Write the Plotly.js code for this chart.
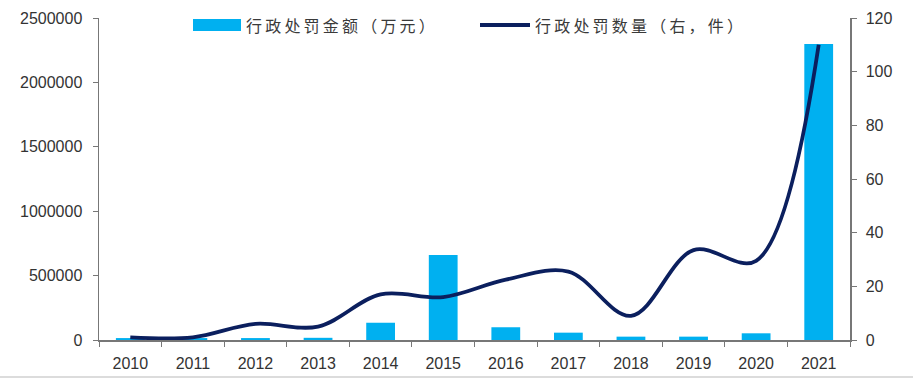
<!DOCTYPE html>
<html>
<head>
<meta charset="utf-8">
<script src="https://cdn.plot.ly/plotly-3.0.1.min.js"></script>
<style>html,body{margin:0;padding:0;background:#fff;}#chart{width:923px;height:382px;}</style>
</head>
<body>
<div id="chart"></div>
<script>
const years = ['2010','2011','2012','2013','2014','2015','2016','2017','2018','2019','2020','2021'];
const fineAmount = [15000, 15000, 15000, 17000, 134000, 660000, 99000, 57000, 26000, 26000, 52000, 2298000];
const fineCount = [1, 1, 6, 5, 17, 16, 22.5, 25.5, 9, 33.5, 29.5, 110];
const leftTicks = [0, 500000, 1000000, 1500000, 2000000, 2500000];
const rightTicks = [0, 20, 40, 60, 80, 100, 120];
const barName = '行政处罚金额（万元）';
const lineName = '行政处罚数量（右，件）';

const barColor = '#00B0F0';
const lineColor = '#0B1F5E';
const tickFont = {family: 'Arial, "Liberation Sans", sans-serif', size: 16, color: '#333'};
const legendFont = {family: '"Noto Sans CJK SC", sans-serif', size: 16, color: '#3a3a3a'};
const spaced = s => Array.from(s).join('\u2009');

const traces = [
  {type: 'bar', x: years, y: fineAmount, name: barName, marker: {color: barColor}, width: 0.46, yaxis: 'y', showlegend: false},
  {type: 'scatter', mode: 'lines', x: years, y: fineCount, name: lineName, yaxis: 'y2',
   line: {color: lineColor, width: 3.8, shape: 'spline', smoothing: 1}, showlegend: false}
];

const layout = {
  width: 923, height: 382,
  margin: {l: 99, r: 73, t: 18, b: 42},
  paper_bgcolor: '#fff', plot_bgcolor: '#fff',
  showlegend: false,
  xaxis: {type: 'category', tickson: 'boundaries', ticks: 'outside', ticklen: 5, tickcolor: '#777',
          showline: true, linecolor: '#777', linewidth: 1.5, showgrid: false, zeroline: false,
          tickfont: tickFont, range: [-0.5, 11.5], ticklabelstandoff: 8},
  yaxis: {range: [0, 2500000], tickvals: leftTicks, ticktext: leftTicks.map(String), ticks: 'outside', ticklen: 5,
          tickcolor: '#777', showline: true, linecolor: '#777', linewidth: 1.5, showgrid: false, zeroline: false,
          tickfont: tickFont, ticklabelstandoff: 7},
  yaxis2: {range: [0, 120], tickvals: rightTicks, overlaying: 'y', side: 'right', ticks: 'outside', ticklen: 5,
           tickcolor: '#777', showline: true, linecolor: '#777', linewidth: 1.5, showgrid: false, zeroline: false,
           tickfont: tickFont, ticklabelstandoff: 6},
  shapes: [
    {type: 'rect', xref: 'paper', yref: 'paper', x0: (193-99)/751, x1: (241-99)/751, y0: (340-31)/322, y1: (340-19)/322,
     fillcolor: barColor, line: {width: 0}},
    {type: 'line', xref: 'paper', yref: 'paper', x0: (480-99)/751, x1: (530-99)/751, y0: (340-25)/322, y1: (340-25)/322,
     line: {color: lineColor, width: 3.8}},
    {type: 'line', xref: 'paper', yref: 'paper', x0: -99/751, x1: (913-99)/751, y0: (340-377)/322, y1: (340-377)/322,
     line: {color: '#dcdcdc', width: 2}}
  ],
  annotations: [
    {xref: 'paper', yref: 'paper', x: (244-99)/751, y: (340-25)/322, xanchor: 'left', yanchor: 'middle', showarrow: false,
     text: spaced(barName), font: legendFont},
    {xref: 'paper', yref: 'paper', x: (533-99)/751, y: (340-25)/322, xanchor: 'left', yanchor: 'middle', showarrow: false,
     text: spaced(lineName), font: legendFont}
  ]
};

Plotly.newPlot('chart', traces, layout, {displayModeBar: false, staticPlot: true});
</script>
</body>
</html>
